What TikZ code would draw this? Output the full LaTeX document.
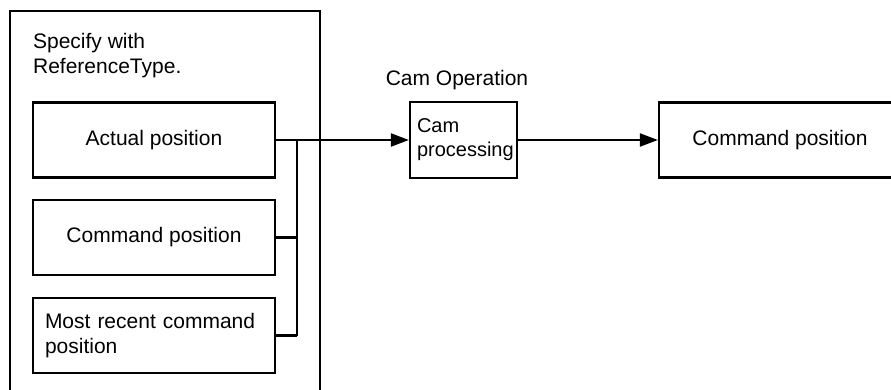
\documentclass[tikz,border=0pt]{standalone}
\usepackage{fontspec}
\setmainfont{Liberation Sans}
\usepackage{tikz}
\usetikzlibrary{arrows.meta, positioning}

\begin{document}
\begin{tikzpicture}[x=1pt, y=-1pt, line width=2.2pt,
    >={Triangle[length=18pt, width=13pt]},
    every node/.style={font=\fontsize{21}{25}\selectfont},
    refbox/.style={draw, minimum width=242pt, minimum height=75pt, inner sep=0pt},
    leftbox/.style={refbox, inner xsep=12pt, text width=218pt, align=left}]
  \useasboundingbox (0,0) rectangle (891,390);

  % Selection frame (open at the bottom)
  \draw (10,395) -- (10,11) -- (320,11) -- (320,395);
  \node[anchor=north west, inner sep=0pt, align=left] (spec) at (32,32)
    {Specify with\\ReferenceType.};

  % Reference positions
  \node[refbox] (actpos) at (154,140) {Actual position};
  \node[refbox] (cmdpos) at (154,237.5) {Command position};
  \node[leftbox] (recentpos) at (154,335.5) {Most recent command\\position};

  % Cam block and output
  \node[draw, minimum width=107pt, minimum height=76pt, inner xsep=7pt,
        text width=93pt, align=left, font=\fontsize{20}{24}\selectfont]
        (camproc) at (463.5,140) {Cam\\processing};
  \node (camop) at (457,80) {Cam Operation};
  \node[refbox, minimum width=242pt] (outpos) at (780,140) {Command position};

  % Bus joining the three sources
  \coordinate (jtop) at (297,140);
  \coordinate (jbot) at (297,335.5);
  \draw (jtop) -- (jbot);
  \draw (cmdpos.east) -- (cmdpos.east -| jtop);
  \draw (recentpos.east) -- (jbot);

  % Signal flow
  \draw[->] (actpos.east) -- (camproc.west);
  \draw[->] (camproc.east) -- (outpos.west);
\end{tikzpicture}
\end{document}
